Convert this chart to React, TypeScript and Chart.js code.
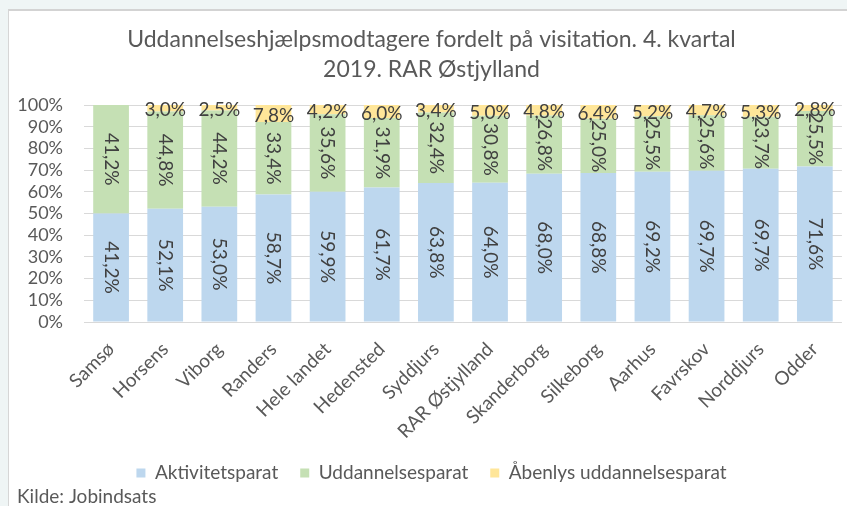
import React, { useEffect, useRef } from "react";
import { Chart, registerables } from "chart.js";

Chart.register(...registerables);

const categories = [
  "Samsø", "Horsens", "Viborg", "Randers", "Hele landet", "Hedensted", "Syddjurs",
  "RAR Østjylland", "Skanderborg", "Silkeborg", "Aarhus", "Favrskov", "Norddjurs", "Odder",
];
const aktivitetsparat = [41.2, 52.1, 53.0, 58.7, 59.9, 61.7, 63.8, 64.0, 68.0, 68.8, 69.2, 69.7, 69.7, 71.6];
const uddannelsesparat = [41.2, 44.8, 44.2, 33.4, 35.6, 31.9, 32.4, 30.8, 26.8, 25.0, 25.5, 25.6, 23.7, 25.5];
const aabenlys: (number | null)[] = [null, 3.0, 2.5, 7.8, 4.2, 6.0, 3.4, 5.0, 4.8, 6.4, 5.2, 4.7, 5.3, 2.8];
const yTickStep = 10;
const titleLines = ["Uddannelseshjælpsmodtagere fordelt på visitation. 4. kvartal", "2019. RAR Østjylland"];
const seriesNames = ["Aktivitetsparat", "Uddannelsesparat", "Åbenlys uddannelsesparat"];
const sourceText = "Kilde: Jobindsats";

const FONT = "Lato, 'Open Sans', sans-serif";
const TEXT = "#595959";

// Excel-style 100% stacked: normalise each category to its own total
const totals = categories.map((_, i) => aktivitetsparat[i] + uddannelsesparat[i] + (aabenlys[i] ?? 0));
const norm = (arr: (number | null)[]) => arr.map((v, i) => (v == null ? null : (v / totals[i]) * 100));
const fmt = (v: number) => v.toFixed(1).replace(".", ",") + "%";

const rawSeries = [aktivitetsparat, uddannelsesparat, aabenlys];

const labelPlugin = {
  id: "barLabels",
  afterDatasetsDraw(chart: any) {
    const ctx = chart.ctx;
    ctx.save();
    ctx.font = `19px ${FONT}`;
    ctx.fillStyle = "#404040";
    ctx.textAlign = "center";
    ctx.textBaseline = "middle";
    chart.data.datasets.forEach((ds: any, di: number) => {
      const meta = chart.getDatasetMeta(di);
      meta.data.forEach((el: any, i: number) => {
        const raw = rawSeries[di][i];
        if (raw == null) return;
        const cx = el.x;
        const cy = (el.y + el.base) / 2;
        const text = fmt(raw);
        if (di < 2) {
          ctx.save();
          ctx.translate(cx, cy);
          ctx.rotate(Math.PI / 2);
          ctx.fillText(text, 0, 0);
          ctx.restore();
        } else {
          ctx.fillText(text, cx, cy + 2);
        }
      });
    });
    ctx.restore();
  },
};

export default function App() {
  const ref = useRef<HTMLCanvasElement>(null);
  useEffect(() => {
    if (!ref.current) return;
    const chart = new Chart(ref.current, {
      type: "bar",
      data: {
        labels: categories,
        datasets: [
          { label: seriesNames[0], data: norm(aktivitetsparat), backgroundColor: "#bdd7ee" },
          { label: seriesNames[1], data: norm(uddannelsesparat), backgroundColor: "#c5e0b4" },
          { label: seriesNames[2], data: norm(aabenlys), backgroundColor: "#ffe699" },
        ],
      },
      options: {
        responsive: false,
        animation: false,
        layout: { padding: { left: 8, right: 1, top: 0, bottom: 0 } },
        datasets: { bar: { categoryPercentage: 0.66, barPercentage: 1 } },
        scales: {
          x: {
            stacked: true,
            grid: { display: false, drawTicks: false },
            border: { display: false },
            ticks: {
              autoSkip: false,
              maxRotation: 45,
              minRotation: 45,
              color: TEXT,
              font: { family: FONT, size: 19 },
              padding: 16,
            },
            afterFit: (s: any) => { s.height = 119.5; },
          },
          y: {
            stacked: true,
            min: 0,
            max: 100,
            grid: { color: "#d9d9d9", drawTicks: false },
            border: { display: false },
            ticks: {
              stepSize: yTickStep,
              autoSkip: false,
              color: TEXT,
              font: { family: FONT, size: 18 },
              padding: 21,
              callback: (v: any) => v + "%",
            },
            afterFit: (s: any) => { s.width = 67; },
          },
        },
        plugins: {
          tooltip: { enabled: false },
          title: {
            display: true,
            text: titleLines,
            color: TEXT,
            font: { family: FONT, size: 23, weight: "normal", lineHeight: 30 / 23 },
            padding: { top: 14, bottom: 20 },
          },
          subtitle: {
            display: true,
            text: sourceText,
            position: "bottom",
            align: "start",
            color: TEXT,
            font: { family: FONT, size: 19, weight: "normal", lineHeight: 1 },
            padding: { top: -5.5, bottom: 0 },
          },
          legend: {
            position: "bottom",
            labels: {
              color: TEXT,
              font: { family: FONT, size: 19 },
              boxWidth: 9,
              boxHeight: 9,
              padding: 22,
            },
          },
        },
      },
      plugins: [labelPlugin],
    } as any);
    return () => chart.destroy();
  }, []);

  return (
    <div style={{ position: "fixed", left: 0, top: 0, width: 847, height: 506, background: "#eff5f5", overflow: "hidden" }}>
      <div
        style={{
          position: "absolute",
          left: 8,
          top: 9,
          width: 839,
          height: 497,
          background: "#ffffff",
          borderLeft: "1px solid #d6d6d6",
          borderTop: "2px solid #d3d3d3",
        }}
      >
        <canvas ref={ref} width={838} height={495} style={{ display: "block" }} />
      </div>
    </div>
  );
}
